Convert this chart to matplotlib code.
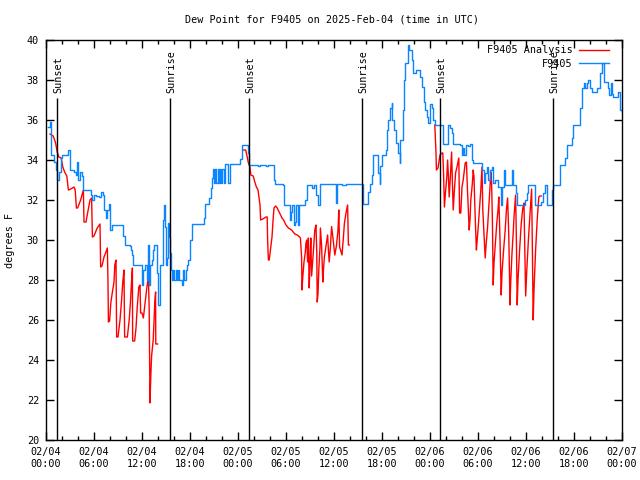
import matplotlib
matplotlib.use("Agg")
import matplotlib.pyplot as plt
import numpy as np
from matplotlib.ticker import MultipleLocator

# ---- data (hours since 2025-02-04 00:00 UTC) ----
blue_h = [0.2, 0.5, 0.67, 1.0, 1.2, 1.42, 1.6, 1.9, 2.0, 2.79, 2.96, 3.5, 3.7, 3.92, 4.04, 4.25, 4.46, 4.67,
          5.4, 5.58, 5.79, 6.0, 6.2, 6.6, 6.83, 7.17, 7.25, 7.46, 7.67, 7.875, 8.0, 8.29, 9.54, 9.67, 9.83,
          10.5, 10.67, 10.79, 10.92, 11.75, 11.96, 12.17, 12.375, 12.58, 12.7, 12.875, 13.0, 13.2, 13.4, 13.5,
          13.9, 14.0, 14.2, 14.3, 14.67, 14.79, 14.875, 15.0, 15.15, 15.3, 15.4, 15.5, 15.6, 15.75, 15.9, 16.05,
          16.2, 16.35, 16.5, 16.65, 16.96, 17.15, 17.3, 17.45, 17.6, 17.8, 18.0, 18.2, 18.3, 19.79, 19.9, 20.4,
          20.6, 20.7, 20.83, 21.0, 21.15, 21.3, 21.45, 21.6, 21.75, 21.9, 22.05, 22.2, 22.4, 22.7, 22.8, 23.0,
          24.2, 24.46, 25.1, 25.3, 25.4, 26.5, 26.7, 27.5, 27.7, 28.5, 28.6, 29.6, 29.8, 30.5, 30.65, 30.8,
          31.0, 31.15, 31.3, 31.5, 31.6, 32.4, 32.6, 33.2, 33.5, 33.8, 33.96, 34.2, 36.3, 36.4, 37.0, 37.5,
          39.6, 40.3, 40.5, 40.7, 40.9, 41.5, 41.7, 41.8, 41.96, 42.5, 42.6, 42.8, 43.0, 43.2, 43.3, 43.5,
          43.8, 44.04, 44.2, 44.3, 44.6, 44.8, 44.9, 45.2, 45.4, 45.7, 45.9, 46.3, 46.8, 46.95, 47.2, 47.4,
          47.6, 47.8, 48.0, 48.2, 48.4, 48.6, 49.6, 50.3, 50.5, 50.7, 50.9, 51.75, 51.96, 52.1, 52.3, 52.5,
          52.8, 53.0, 53.2, 53.4, 54.5, 54.7, 54.9, 55.1, 55.3, 55.5, 55.7, 55.9, 56.1, 56.5, 56.9, 57.0,
          57.25, 57.4, 58.2, 58.4, 58.75, 58.9, 59.9, 60.1, 60.3, 61.1, 61.9, 62.1, 62.4, 62.6, 63.3, 63.4,
          64.2, 64.3, 64.9, 65.1, 65.7, 65.9, 66.75, 66.96, 67.2, 67.4, 67.6, 67.8, 68.0, 68.2, 68.9, 69.2,
          69.3, 69.5, 69.7, 70.3, 70.4, 70.6, 70.75, 70.9, 71.5, 71.8, 72.0]
blue_v = [35.65, 35.9, 34.25, 33.9, 33.5, 33.0, 33.4, 34.1, 34.25, 34.5, 33.5, 33.4, 33.25, 33.9, 33.0, 33.4, 33.2, 32.5,
          32.5, 32.25, 32.0, 32.25, 32.2, 32.15, 32.4, 32.25, 31.5, 31.1, 31.5, 31.8, 30.5, 30.75, 30.75, 30.2, 29.75,
          29.7, 29.5, 29.25, 28.75, 28.75, 27.75, 28.5, 28.75, 28.0, 29.75, 27.75, 28.75, 29.0, 29.5, 29.75,
          28.35, 26.75, 27.35, 28.75, 31.0, 31.75, 30.67, 28.75, 29.1, 30.83, 30.17, 29.35, 28.5, 28.0, 28.5, 28.0,
          28.5, 28.0, 28.5, 28.0, 27.75, 28.5, 28.0, 28.5, 28.75, 29.0, 30.0, 30.5, 30.8, 31.1, 31.8, 32.1,
          32.6, 33.1, 33.55, 32.85, 33.55, 32.85, 33.55, 32.85, 33.55, 32.85, 33.55, 32.85, 33.8, 33.8, 32.85, 33.8,
          34.05, 34.75, 34.75, 34.35, 33.75, 33.7, 33.75, 33.7, 33.75, 33.0, 32.8, 32.75, 31.75, 31.0, 31.4, 31.75,
          30.75, 30.9, 31.75, 30.75, 31.75, 32.0, 32.75, 32.6, 32.75, 32.25, 31.75, 32.8, 31.85, 32.8, 32.75, 32.8,
          31.8, 32.4, 32.8, 33.25, 34.25, 33.35, 32.8, 33.7, 34.25, 34.5, 35.5, 36.0, 36.6, 36.85, 36.0, 35.5,
          34.85, 34.35, 33.85, 35.0, 36.5, 38.0, 38.85, 39.75, 39.5, 39.0, 38.35, 38.5, 38.15, 37.65, 36.9, 36.5,
          36.15, 35.85, 36.8, 36.6, 36.0, 35.75, 34.8, 35.75, 35.6, 35.35, 34.8, 34.75, 34.25, 34.6, 34.25, 34.75,
          34.7, 34.8, 34.0, 33.85, 33.5, 32.85, 33.35, 33.65, 33.0, 33.5, 33.65, 32.85, 33.0, 32.65, 31.75, 32.65,
          33.5, 32.75, 33.5, 32.75, 32.35, 31.75, 32.0, 32.35, 32.75, 31.75, 31.9, 32.35, 32.75, 31.75, 32.5, 32.75,
          33.1, 33.75, 34.1, 34.75, 35.1, 35.75, 36.6, 37.6, 37.85, 37.6, 37.85, 38.0, 37.6, 37.4, 37.6, 37.85,
          38.35, 38.85, 37.9, 37.6, 37.25, 37.85, 37.3, 37.15, 37.4, 36.5, 36.4]

red1_h = [0.5, 0.9, 1.2, 1.4, 1.6, 1.9, 2.1, 2.33, 2.6, 2.8, 3.1, 3.5, 3.65, 3.8, 3.95, 4.33, 4.5, 4.67, 4.75, 5.0,
          5.2, 5.5, 5.7, 5.8, 6.0, 6.4, 6.75, 6.83, 7.0, 7.25, 7.45, 7.67, 7.75, 7.8, 7.95, 8.1, 8.3, 8.5, 8.6,
          8.75, 8.83, 9.0, 9.25, 9.45, 9.6, 9.75, 9.83, 10.17, 10.4, 10.55, 10.67, 10.8, 10.83, 11.08, 11.25,
          11.4, 11.6, 11.75, 11.83, 12.0, 12.17, 12.4, 12.6, 12.8, 12.9, 13.0, 13.1, 13.2, 13.4, 13.5, 13.6,
          13.7, 13.72, 13.95]
red1_v = [35.3, 35.2, 34.85, 34.4, 34.15, 34.1, 33.65, 33.4, 33.2, 32.5, 32.55, 32.65, 32.5, 31.6, 31.6, 32.0,
          32.25, 32.5, 30.9, 30.9, 31.35, 32.0, 32.1, 30.15, 30.2, 30.6, 30.8, 28.65, 28.7, 29.15, 29.35, 29.6,
          27.85, 25.9, 25.95, 26.85, 27.4, 27.9, 28.75, 29.0, 25.15, 25.15, 26.0, 27.0, 27.9, 28.5, 25.15, 25.15,
          26.0, 26.85, 27.75, 28.6, 24.95, 24.95, 25.6, 26.6, 27.65, 27.75, 26.35, 26.35, 26.1, 26.9, 27.6, 28.2,
          26.5, 21.85, 23.2, 24.2, 25.0, 25.9, 26.9, 27.4, 24.8, 24.8]

red2_h = [24.67, 24.95, 25.1, 25.3, 25.5, 25.6, 25.9, 26.1, 26.3, 26.5, 26.75, 26.83, 27.1, 27.5, 27.65, 27.7,
          27.8, 27.9, 28.1, 28.25, 28.4, 28.5, 28.7, 28.9, 29.2, 29.5, 29.7, 30.0, 30.3, 30.7, 31.1, 31.4, 31.7,
          31.8, 31.95, 32.0, 32.1, 32.25, 32.4, 32.5, 32.6, 32.7, 32.8, 32.9, 33.0, 33.1, 33.2, 33.4, 33.6, 33.75,
          33.85, 33.9, 34.0, 34.1, 34.25, 34.3, 34.45, 34.6, 34.7, 34.8, 35.0, 35.2, 35.3, 35.4, 35.55, 35.7,
          35.9, 36.1, 36.3, 36.5, 36.6, 36.7, 37.0, 37.15, 37.3, 37.5, 37.7, 37.8, 37.9]
red2_v = [34.5, 34.5, 34.25, 33.85, 33.65, 33.25, 33.2, 32.9, 32.65, 32.5, 31.75, 31.0, 31.05, 31.15, 31.15, 30.0,
          29.0, 29.0, 29.65, 30.15, 31.1, 31.6, 31.7, 31.6, 31.35, 31.1, 31.0, 30.75, 30.6, 30.5, 30.3, 30.25, 30.15,
          30.1, 29.15, 27.5, 28.17, 28.9, 29.35, 29.85, 30.0, 28.9, 30.1, 27.6, 28.9, 30.1, 28.2, 29.3, 30.5, 30.75,
          29.3, 26.9, 27.3, 28.5, 29.65, 30.6, 29.7, 27.9, 28.6, 29.15, 29.7, 30.25, 29.5, 28.9, 29.65, 30.67,
          30.0, 29.25, 29.7, 30.5, 31.5, 29.65, 29.25, 30.0, 30.83, 31.35, 31.75, 29.75, 29.75]

red3_h = [48.6, 48.75, 48.8, 49.0, 49.25, 49.5, 49.6, 49.7, 49.8, 49.96, 50.1, 50.2, 50.3, 50.4, 50.55, 50.7,
          50.8, 50.9, 51.05, 51.2, 51.4, 51.6, 51.7, 51.85, 52.0, 52.15, 52.4, 52.55, 52.7, 52.9, 53.0, 53.1,
          53.3, 53.4, 53.5, 53.6, 53.75, 53.8, 54.0, 54.2, 54.35, 54.5, 54.6, 54.75, 54.9, 55.0, 55.2, 55.35,
          55.5, 55.6, 55.7, 55.8, 55.9, 56.0, 56.2, 56.35, 56.5, 56.6, 56.75, 56.9, 57.0, 57.2, 57.4, 57.55,
          57.7, 57.85, 58.0, 58.1, 58.25, 58.4, 58.5, 58.7, 58.8, 58.9, 59.0, 59.2, 59.4, 59.6, 59.75, 59.85,
          59.96, 60.1, 60.3, 60.5, 60.7, 60.8, 60.9, 61.0, 61.2, 61.4, 61.6, 61.75, 61.9]
red3_v = [35.75, 34.35, 33.5, 33.6, 34.25, 34.35, 34.35, 33.25, 31.65, 32.5, 33.15, 34.0, 33.2, 32.15, 33.2, 34.4,
          32.9, 31.5, 32.5, 33.35, 33.7, 34.1, 31.35, 31.35, 32.65, 33.0, 33.85, 33.9, 32.35, 30.5, 31.0, 32.0,
          32.85, 33.5, 33.15, 31.75, 30.0, 29.5, 30.5, 31.65, 32.5, 33.65, 31.5, 30.3, 29.1, 29.7, 30.67, 31.65,
          32.65, 33.4, 32.85, 31.0, 27.75, 28.85, 30.0, 30.85, 31.5, 32.15, 30.0, 27.25, 28.35, 29.5, 30.5, 31.5,
          32.1, 30.2, 26.75, 28.0, 29.35, 30.35, 31.15, 32.25, 30.0, 26.75, 28.0, 29.5, 30.8, 31.6, 31.85, 29.5,
          27.2, 28.5, 30.0, 31.3, 32.55, 29.5, 26.0, 27.5, 29.5, 31.0, 32.15, 32.2, 32.2]

sun_h = [1.4, 15.5, 25.4, 39.5, 49.25, 63.4]
sun_labels = ["Sunset", "Sunrise", "Sunset", "Sunrise", "Sunset", "Sunrise"]

xtick_h = [0, 6, 12, 18, 24, 30, 36, 42, 48, 54, 60, 66, 72]
xtick_labels = ["02/04\n00:00", "02/04\n06:00", "02/04\n12:00", "02/04\n18:00",
                "02/05\n00:00", "02/05\n06:00", "02/05\n12:00", "02/05\n18:00",
                "02/06\n00:00", "02/06\n06:00", "02/06\n12:00", "02/06\n18:00",
                "02/07\n00:00"]

FONT = "DejaVu Sans Mono"
FS = 7.3
plt.rcParams['font.family'] = FONT

fig = plt.figure(figsize=(6.4, 4.8), dpi=100)
ax = fig.add_axes([46/640, 40/480, 576/640, 400/480])

RED = "#ff0000"
BLUE = "#0a84ff"

ax.plot(red1_h, red1_v, color=RED, lw=1.0, label="F9405 Analysis")
ax.plot(red2_h, red2_v, color=RED, lw=1.0)
ax.plot(red3_h, red3_v, color=RED, lw=1.0)
ax.plot(blue_h, blue_v, color=BLUE, lw=1.0, drawstyle="steps-post", label="F9405")

for h, lab in zip(sun_h, sun_labels):
    ax.vlines(h, 20, 37.1, color="black", lw=1.0)
    ax.text(h + 0.15, 37.35, lab, rotation=90, ha="center", va="bottom",
            fontsize=FS, family=FONT)

ax.set_xlim(0, 72)
ax.set_ylim(20, 40)
ax.set_xticks(xtick_h)
ax.set_xticklabels(xtick_labels)
ax.xaxis.set_minor_locator(MultipleLocator(2))
ax.set_yticks(np.arange(20, 41, 2))
ax.tick_params(axis="both", which="major", direction="in", length=6, width=1,
               top=True, right=True, labelsize=FS, pad=5)
ax.tick_params(axis="x", which="minor", direction="in", length=3, width=1, top=True)
for s in ax.spines.values():
    s.set_linewidth(1.0)
    s.set_color("black")

fig.text(332/640, 1 - 19/480, "Dew Point for F9405 on 2025-Feb-04 (time in UTC)",
         ha="center", va="center", fontsize=FS, family=FONT)
fig.text(10/640, 0.5, "degrees F", rotation=90, ha="center", va="center",
         fontsize=FS, family=FONT)

leg = ax.legend(loc="upper right", frameon=False, markerfirst=False, fontsize=FS,
                handlelength=3.0, handletextpad=0.6, borderaxespad=0.3,
                labelspacing=0.35, bbox_to_anchor=(0.99, 1.005))

fig.savefig("out.png", dpi=100)
